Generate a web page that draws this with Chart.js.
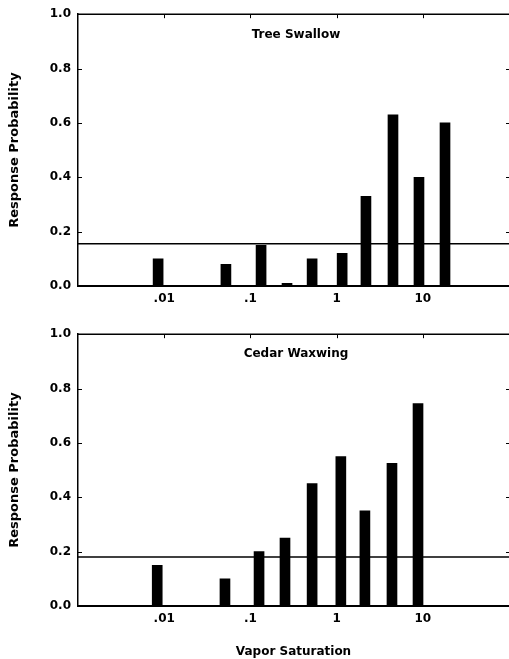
<!DOCTYPE html>
<html>
<head>
<meta charset="utf-8">
<script src="https://cdn.jsdelivr.net/npm/chart.js@4/dist/chart.umd.min.js"></script>
<style>
html,body{margin:0;padding:0;background:#fff;}
#wrap{position:relative;width:509px;height:659px;overflow:hidden;}
canvas{position:absolute;left:0;}
</style>
</head>
<body>
<div id="wrap">
<canvas id="c1" width="509" height="320" style="top:0"></canvas>
<canvas id="c2" width="509" height="339" style="top:320px"></canvas>
</div>
<script>
// ---- data ----
const xTickValues = [0.01, 0.1, 1, 10];
const xTickLabels = ['.01', '.1', '1', '10'];
const yTickValues = [0, 0.2, 0.4, 0.6, 0.8, 1.0];
const yTickLabels = ['0.0', '0.2', '0.4', '0.6', '0.8', '1.0'];

const swallowTitle = 'Tree Swallow';
const swallowX = [0.0085, 0.052, 0.133, 0.266, 0.52, 1.16, 2.19, 4.51, 9.03, 18.1];
const swallowY = [0.10, 0.08, 0.15, 0.01, 0.10, 0.12, 0.33, 0.63, 0.40, 0.60];
const swallowBaseline = 0.155;

const waxwingTitle = 'Cedar Waxwing';
const waxwingX = [0.0083, 0.0507, 0.126, 0.252, 0.52, 1.12, 2.13, 4.39, 8.8];
const waxwingY = [0.15, 0.10, 0.20, 0.25, 0.45, 0.55, 0.35, 0.525, 0.745];
const waxwingBaseline = 0.18;

const xMin = 0.001, xMax = 100;
const yTitle = 'Response Probability';
const xTitle = 'Vapor Saturation';

const FONT = "'DejaVu Sans', sans-serif";

const framePlugin = {
  id: 'frame',
  afterDraw(chart, args, opts) {
    const ctx = chart.ctx, a = chart.chartArea;
    const xs = chart.scales.x, ys = chart.scales.y;
    ctx.save();
    ctx.strokeStyle = '#000';
    ctx.lineWidth = 1.5;
    ctx.beginPath();
    ctx.moveTo(a.left, a.top); ctx.lineTo(a.right, a.top);
    ctx.stroke();
    ctx.lineWidth = 1;
    ctx.beginPath();
    xTickValues.forEach(v => {
      const px = Math.round(xs.getPixelForValue(v)) + 0.5;
      ctx.moveTo(px, a.top); ctx.lineTo(px, a.top + 4);
    });
    yTickValues.forEach(v => {
      if (v === 0) return;
      const py = Math.round(ys.getPixelForValue(v)) + 0.5;
      ctx.moveTo(a.left, py); ctx.lineTo(a.left + 4, py);
      ctx.moveTo(a.right - 3, py); ctx.lineTo(a.right, py);
    });
    ctx.stroke();
    ctx.fillStyle = '#000';
    ctx.font = 'bold 12px ' + FONT;
    ctx.textAlign = 'center';
    ctx.textBaseline = 'middle';
    ctx.fillText(opts.text, opts.cx, a.top + opts.dy);
    ctx.restore();
  }
};

function makeChart(id, title, xs, ys, baseline, showXTitle, xAxisHeight, titleDy) {
  const bars = xs.map((x, i) => ({x: x, y: ys[i]}));
  return new Chart(document.getElementById(id), {
    type: 'bar',
    data: {
      datasets: [
        {
          type: 'line',
          data: [{x: xMin, y: baseline}, {x: xMax, y: baseline}],
          borderColor: '#000',
          borderWidth: 1.5,
          pointRadius: 0,
          fill: false,
          order: 0
        },
        {
          type: 'bar',
          data: bars,
          backgroundColor: '#000',
          borderWidth: 0,
          barThickness: 10,
          order: 1
        }
      ]
    },
    options: {
      responsive: false,
      animation: false,
      devicePixelRatio: 1,
      layout: {padding: {top: 12, right: 0, left: 0, bottom: 0}},
      plugins: {
        legend: {display: false},
        tooltip: {enabled: false},
        frame: {text: title, cx: 296, dy: titleDy}
      },
      scales: {
        x: {
          type: 'logarithmic',
          min: xMin,
          max: xMax,
          grid: {display: false, drawTicks: false},
          border: {display: true, color: '#000', width: 2},
          afterBuildTicks: s => { s.ticks = xTickValues.map(v => ({value: v})); },
          afterFit: s => { s.height = xAxisHeight; },
          ticks: {
            autoSkip: false,
            maxRotation: 0,
            padding: 6,
            color: '#000',
            font: {family: FONT, size: 12, weight: 'bold'},
            callback: (v) => { const i = xTickValues.indexOf(v); return i >= 0 ? xTickLabels[i] : ''; }
          },
          title: {
            display: showXTitle,
            text: xTitle,
            color: '#000',
            font: {family: FONT, size: 12, weight: 'bold'},
            padding: {top: 0, bottom: 0}
          }
        },
        y: {
          min: 0,
          max: 1,
          grid: {display: false, drawTicks: false},
          border: {display: true, color: '#000', width: 1.5},
          afterBuildTicks: s => { s.ticks = yTickValues.map(v => ({value: v})); },
          afterFit: s => { s.width = 78; },
          ticks: {
            padding: 7,
            color: '#000',
            font: {family: FONT, size: 12, weight: 'bold'},
            callback: (v) => { const i = yTickValues.findIndex(t => Math.abs(t - v) < 1e-9); return i >= 0 ? yTickLabels[i] : ''; }
          },
          title: {
            display: true,
            text: yTitle,
            color: '#000',
            font: {family: FONT, size: 13, weight: 'bold'},
            padding: {top: 7, bottom: 0}
          }
        }
      }
    },
    plugins: [framePlugin]
  });
}

makeChart('c1', swallowTitle, swallowX, swallowY, swallowBaseline, false, 34, 21);
makeChart('c2', waxwingTitle, waxwingX, waxwingY, waxwingBaseline, true, 53, 20);
</script>
</body>
</html>
